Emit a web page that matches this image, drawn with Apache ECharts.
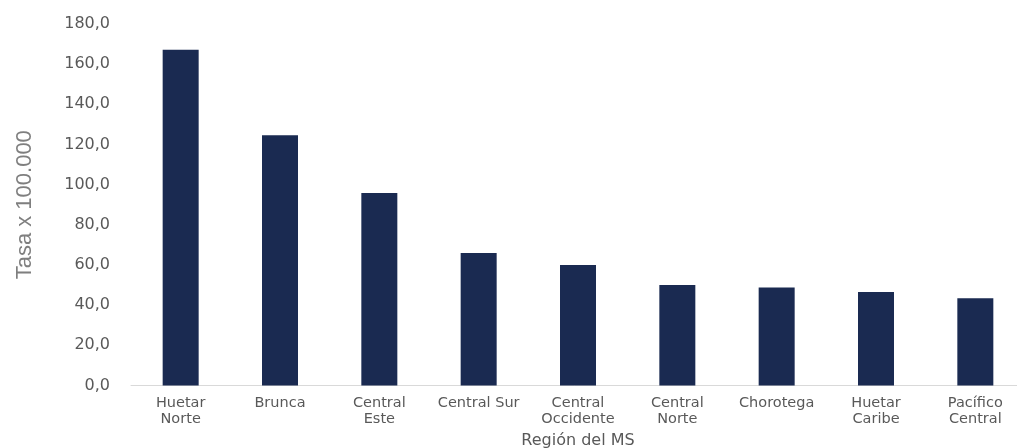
<!DOCTYPE html>
<html>
<head>
<meta charset="utf-8">
<script src="https://cdn.jsdelivr.net/npm/echarts@6/dist/echarts.min.js"></script>
<style>
html,body{margin:0;padding:0;background:#fff;}
#chart{width:1017px;height:448px;}
</style>
</head>
<body>
<div id="chart"></div>
<script>
const categories = ["Huetar\nNorte", "Brunca", "Central\nEste", "Central Sur", "Central\nOccidente", "Central\nNorte", "Chorotega", "Huetar\nCaribe", "Pacífico\nCentral"];
const tasa = [167.2, 124.6, 95.8, 66.0, 60.0, 50.0, 48.8, 46.6, 43.4];
const yMin = 0, yMax = 180, yStep = 20;
const yTitle = "Tasa x 100.000";
const xTitle = "Región del MS";

const chart = echarts.init(document.getElementById('chart'), null, {renderer: 'canvas'});
chart.setOption({
  animation: false,
  backgroundColor: '#ffffff',
  grid: {left: 131, top: 24, width: 894, height: 361.5, containLabel: false, outerBoundsMode: 'none'},
  xAxis: {
    type: 'category',
    data: categories,
    axisLine: {show: true, lineStyle: {color: '#d9d9d9', width: 1}},
    axisTick: {show: false},
    axisLabel: {color: '#595959', fontFamily: 'DejaVu Sans', fontSize: 14.5, lineHeight: 16, margin: 10, interval: 0},
    name: xTitle,
    nameLocation: 'middle',
    nameGap: 46,
    nameTextStyle: {color: '#595959', fontFamily: 'DejaVu Sans', fontSize: 16}
  },
  yAxis: {
    type: 'value',
    min: yMin, max: yMax, interval: yStep,
    splitLine: {show: false},
    axisLine: {show: false},
    axisTick: {show: false},
    axisLabel: {color: '#595959', fontFamily: 'DejaVu Sans', fontSize: 16, margin: 21,
      formatter: v => v.toFixed(1).replace('.', ',')},
    name: yTitle,
    nameLocation: 'middle',
    nameGap: 95,
    nameTextStyle: {color: '#7f7f7f', fontFamily: 'Liberation Sans', fontSize: 22}
  },
  series: [{
    type: 'bar',
    data: tasa,
    barWidth: 36,
    itemStyle: {color: '#1a2a51'}
  }]
});
</script>
</body>
</html>
